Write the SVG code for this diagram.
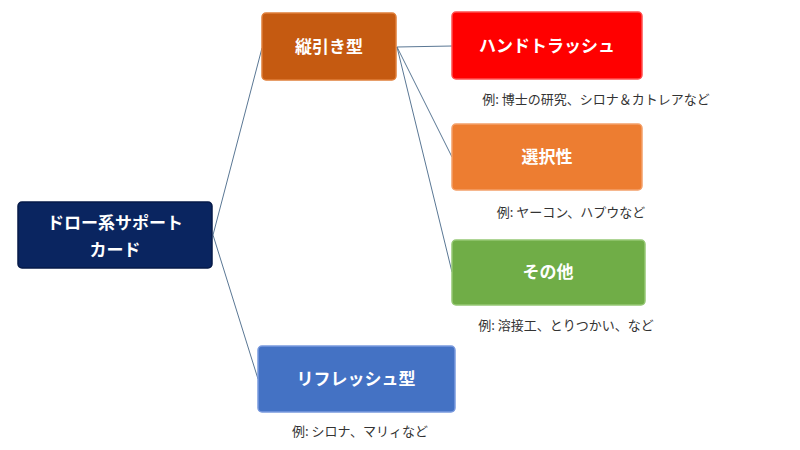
<svg xmlns="http://www.w3.org/2000/svg" width="800" height="450" viewBox="0 0 800 450">
<style>
.n{stroke-width:1.5}
.t{font-family:"Noto Sans CJK JP",sans-serif;font-weight:bold;font-size:17px;fill:#fff;text-anchor:middle}
.c{font-family:"Noto Sans CJK JP",sans-serif;font-size:13px;fill:#333;text-anchor:middle}
.l{stroke:#5a7794;stroke-width:1;fill:none}
</style>
<rect width="800" height="450" fill="#fff"/>
<g id="connectors">
<line class="l" x1="213" y1="235" x2="262" y2="48"/>
<line class="l" x1="213" y1="235" x2="258" y2="379"/>
<line class="l" x1="397" y1="47" x2="452" y2="46"/>
<line class="l" x1="397" y1="47" x2="452" y2="157"/>
<line class="l" x1="397" y1="47" x2="452" y2="272"/>
</g>
<g id="root"><rect class="n" x="18" y="202" width="194" height="66" rx="4" fill="#0a2560" stroke="#061a48"/>
<text class="t" x="115" y="229">ドロー系サポート</text><text class="t" x="115" y="256">カード</text></g>
<g id="tate"><rect class="n" x="262" y="13" width="134" height="67" rx="4" fill="#c55a11" stroke="#e07f3a"/>
<text class="t" x="329" y="53">縦引き型</text></g>
<g id="hand"><rect class="n" x="452" y="12" width="190" height="67" rx="4" fill="#f00" stroke="#ff5050"/>
<text class="t" x="547" y="52">ハンドトラッシュ</text>
<text class="c" x="596" y="104">例: 博士の研究、シロナ＆カトレアなど</text></g>
<g id="sentaku"><rect class="n" x="452" y="124" width="190" height="66" rx="4" fill="#ed7d31" stroke="#f4a06a"/>
<text class="t" x="547" y="163">選択性</text>
<text class="c" x="571" y="217">例: ヤーコン、ハプウなど</text></g>
<g id="sonota"><rect class="n" x="452" y="240" width="193" height="65" rx="4" fill="#70ad47" stroke="#95c874"/>
<text class="t" x="548" y="278">その他</text>
<text class="c" x="566" y="330">例: 溶接工、とりつかい、など</text></g>
<g id="refresh"><rect class="n" x="258" y="346" width="197" height="66" rx="4" fill="#4472c4" stroke="#7a9ade"/>
<text class="t" x="356" y="385">リフレッシュ型</text>
<text class="c" x="360" y="436">例: シロナ、マリィなど</text></g>
</svg>
